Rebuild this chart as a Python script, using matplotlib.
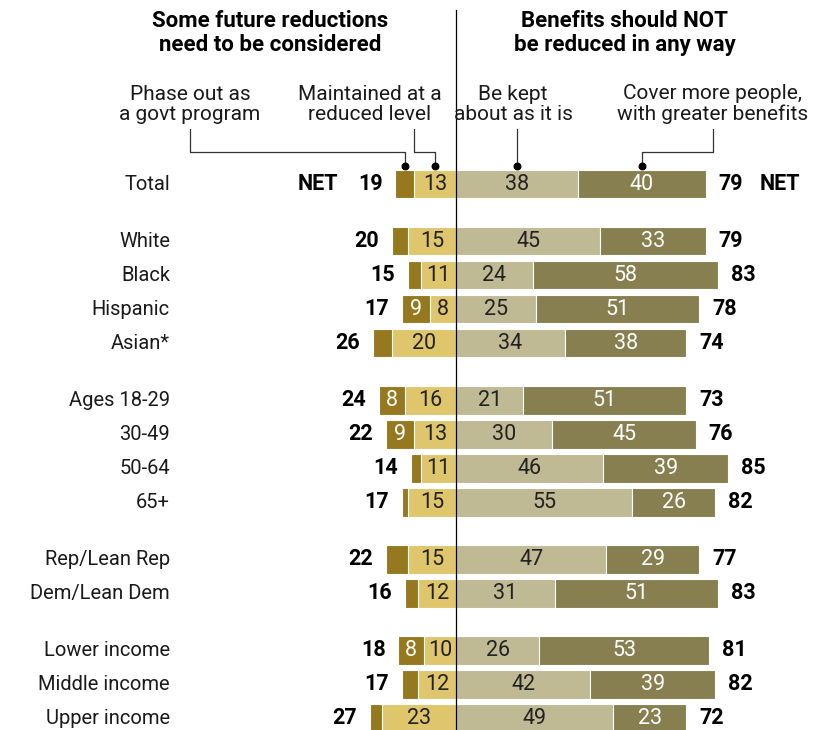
import matplotlib.pyplot as plt
import numpy as np

plt.rcParams['font.family'] = ['Roboto', 'DejaVu Sans']

groups = [
    ['Total'],
    ['White', 'Black', 'Hispanic', 'Asian*'],
    ['Ages 18-29', '30-49', '50-64', '65+'],
    ['Rep/Lean Rep', 'Dem/Lean Dem'],
    ['Lower income', 'Middle income', 'Upper income'],
]
phase_out = [6, 5, 4, 9, 6, 8, 9, 3, 2, 7, 4, 8, 5, 4]
maintained = [13, 15, 11, 8, 20, 16, 13, 11, 15, 15, 12, 10, 12, 23]
kept = [38, 45, 24, 25, 34, 21, 30, 46, 55, 47, 31, 26, 42, 49]
cover = [40, 33, 58, 51, 38, 51, 45, 39, 26, 29, 51, 53, 39, 23]
net_reduce = [19, 20, 15, 17, 26, 24, 22, 14, 17, 22, 16, 18, 17, 27]
net_keep = [79, 79, 83, 78, 74, 73, 76, 85, 82, 77, 83, 81, 82, 72]

c_phase = '#96781f'
c_maint = '#dfc56c'
c_kept = '#bfb994'
c_cover = '#877f4f'

labels, ypos = [], []
row = 0
for g, names in enumerate(groups):
    for n in names:
        labels.append(n)
        ypos.append(row + 0.68 * g)
        row += 1
ypos = np.array(ypos)

po = np.array(phase_out)
mt = np.array(maintained)
kp = np.array(kept)
cv = np.array(cover)

fig = plt.figure(figsize=(8.22, 7.3), dpi=100)
ax = fig.add_axes([0, 0, 1, 1])
ax.set_xlim(-456 / 3.2, (822 - 456) / 3.2)
ax.set_ylim((730 - 184) / 34, -184 / 34)
ax.axis('off')

h = 0.84
kw = dict(height=h, edgecolor='white', linewidth=0.8)
ax.barh(ypos, -mt, color=c_maint, **kw)
ax.barh(ypos, -po, left=-mt, color=c_phase, **kw)
ax.barh(ypos, kp, color=c_kept, **kw)
ax.barh(ypos, cv, left=kp, color=c_cover, **kw)

ax.plot([0, 0], [-5.12, 16.1], color='black', lw=0.9)

fs = 15.5
for i, y in enumerate(ypos):
    ax.text(-89.4, y, labels[i], ha='right', va='center', fontsize=14.5, color='#1a1a1a')
    ax.text(-mt[i] / 2, y, str(mt[i]), ha='center', va='center', fontsize=fs, color='#222222')
    if po[i] >= 8:
        ax.text(-mt[i] - po[i] / 2, y, str(po[i]), ha='center', va='center', fontsize=fs, color='white')
    ax.text(kp[i] / 2, y, str(kp[i]), ha='center', va='center', fontsize=fs, color='#222222')
    ax.text(kp[i] + cv[i] / 2, y, str(cv[i]), ha='center', va='center', fontsize=fs, color='white')
    lx = -(mt[i] + po[i]) - 4.0
    rx = kp[i] + cv[i] + 4.0
    ax.text(lx, y, str(net_reduce[i]), ha='right', va='center', fontsize=fs, fontweight='bold')
    ax.text(rx, y, str(net_keep[i]), ha='left', va='center', fontsize=fs, fontweight='bold')
    if i == 0:
        ax.text(lx - 13.8, y, 'NET', ha='right', va='center', fontsize=fs, fontweight='bold')
        ax.text(rx + 13, y, 'NET', ha='left', va='center', fontsize=fs, fontweight='bold')

# headers
ax.text(-58.1, -4.44, 'Some future reductions\nneed to be considered', ha='center', va='center',
        fontsize=16, fontweight='bold', linespacing=1.1)
ax.text(52.8, -4.44, 'Benefits should NOT\nbe reduced in any way', ha='center', va='center',
        fontsize=16, fontweight='bold', linespacing=1.1)

sub = dict(ha='center', va='center', fontsize=15, color='#1a1a1a', linespacing=1.08)
ax.text(-83.1, -2.35, 'Phase out as\na govt program', **sub)
ax.text(-26.9, -2.35, 'Maintained at a\nreduced level', **sub)
ax.text(17.8, -2.35, 'Be kept\nabout as it is', **sub)
ax.text(80.3, -2.35, 'Cover more people,\nwith greater benefits', **sub)

# leader lines to the Total bar
y_top, y_mid, y_dot = -1.62, -0.94, -0.53
d_phase = -mt[0] - po[0] / 2
d_maint = -mt[0] / 2
d_kept = kp[0] / 2
d_cover = kp[0] + cv[0] / 2
lk = dict(color='#333333', lw=0.9)
ax.plot([-83.1, -83.1, d_phase, d_phase], [y_top, y_mid, y_mid, y_dot], **lk)
ax.plot([-13.1, -13.1, d_maint, d_maint], [y_top, y_mid, y_mid, y_dot], **lk)
ax.plot([d_kept, d_kept], [y_top, y_dot], **lk)
ax.plot([80.3, 80.3, d_cover, d_cover], [y_top, y_mid, y_mid, y_dot], **lk)
ax.scatter([d_phase, d_maint, d_kept, d_cover], [y_dot] * 4, s=22, color='black', zorder=5)

fig.savefig('out.png', dpi=100)
